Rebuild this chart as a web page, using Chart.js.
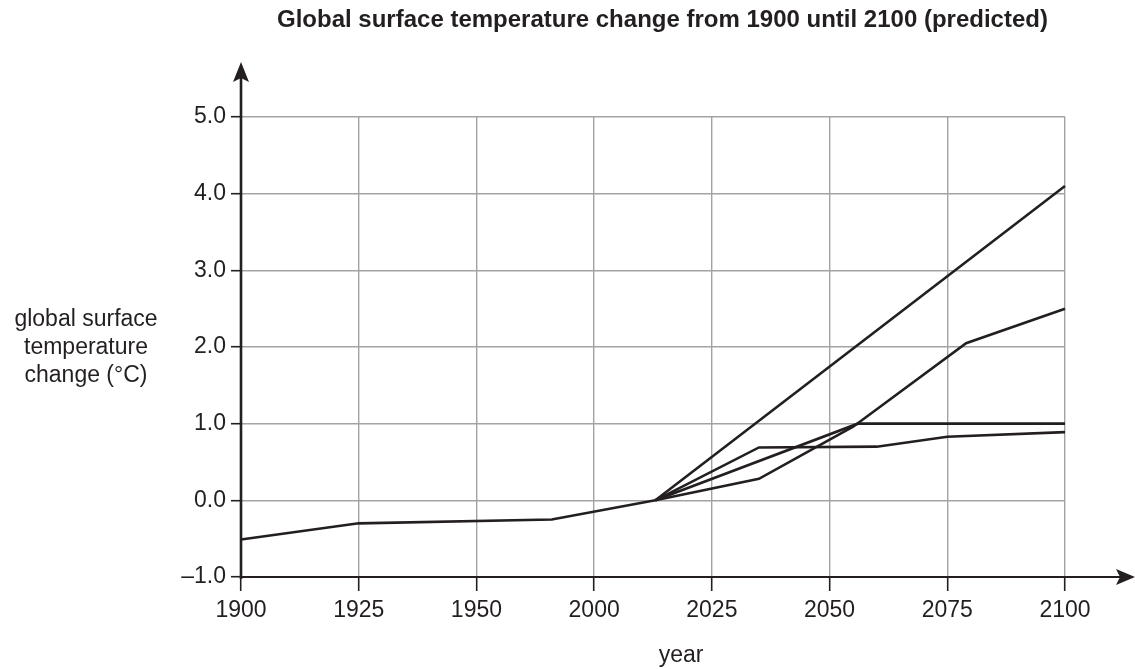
<!DOCTYPE html>
<html>
<head>
<meta charset="utf-8">
<title>Global surface temperature change</title>
<script src="https://cdn.jsdelivr.net/npm/chart.js@4/dist/chart.umd.min.js"></script>
<style>
  html, body { margin: 0; padding: 0; background: #fff; }
  canvas { display: block; }
</style>
</head>
<body>
<canvas id="myChart" width="1135" height="669"></canvas>
<script>
'use strict'

//data
const tickYears = [1900, 1925, 1950, 2000, 2025, 2050, 2075, 2100];
const yTicks = [-1, 0, 1, 2, 3, 4, 5];

const pastYears = [1900, 1925, 1982, 2013];
const pastTemps = [-0.51, -0.30, -0.25, 0.0];

const highYears = [2013, 2100];
const highTemps = [0.0, 4.1];

const riseYears = [2013, 2035, 2055, 2079, 2100];
const riseTemps = [0.0, 0.28, 0.96, 2.05, 2.5];

const plateauYears = [2013, 2056, 2100];
const plateauTemps = [0.0, 1.0, 1.0];

const lowYears = [2013, 2035, 2060, 2075, 2100];
const lowTemps = [0.0, 0.69, 0.70, 0.83, 0.89];

const ink = '#231f20';

// the printed year axis is not even (1950 -> 2000 is one step), so place a year by its tick gap
function yearToPos(year) {
  for (let i = 0; i < tickYears.length - 1; i++) {
    if (year <= tickYears[i + 1]) {
      return i + (year - tickYears[i]) / (tickYears[i + 1] - tickYears[i]);
    }
  }
  return tickYears.length - 1;
}

function makePoints(years, temps) {
  let pts = [];
  for (let i = 0; i < years.length; i++) {
    pts.push({ x: yearToPos(years[i]), y: temps[i] });
  }
  return pts;
}

function lineSet(years, temps) {
  return {
    data: makePoints(years, temps),
    borderColor: ink,
    borderWidth: 2.6,
    pointRadius: 0,
    tension: 0,
    borderJoinStyle: 'miter',
    clip: 4
  };
}

//decorations: titles, axis lines and arrows
const extras = {
  id: 'extras',
  afterDraw(chart) {
    const ctx = chart.ctx;
    const area = chart.chartArea;
    ctx.save();
    ctx.fillStyle = ink;
    ctx.strokeStyle = ink;

    ctx.font = 'bold 24px "Liberation Sans", Arial, sans-serif';
    ctx.textAlign = 'left';
    ctx.textBaseline = 'alphabetic';
    ctx.fillText('Global surface temperature change from 1900 until 2100 (predicted)', 277, 27);

    ctx.font = '23px "Liberation Sans", Arial, sans-serif';
    ctx.textAlign = 'center';
    ctx.textBaseline = 'middle';
    ctx.fillText('global surface', 86, 320);
    ctx.fillText('temperature', 86, 348);
    ctx.fillText('change (°C)', 86, 376);
    ctx.fillText('year', 681, 656);

    // y axis
    ctx.lineWidth = 2.6;
    ctx.beginPath();
    ctx.moveTo(area.left, area.bottom + 2);
    ctx.lineTo(area.left, 72);
    ctx.stroke();
    ctx.beginPath();
    ctx.moveTo(area.left, 62);
    ctx.lineTo(area.left + 8, 82);
    ctx.lineTo(area.left, 78);
    ctx.lineTo(area.left - 8, 82);
    ctx.closePath();
    ctx.fill();

    // x axis
    ctx.lineWidth = 2;
    ctx.beginPath();
    ctx.moveTo(area.left, area.bottom);
    ctx.lineTo(1125, area.bottom);
    ctx.stroke();
    ctx.beginPath();
    ctx.moveTo(1135, area.bottom);
    ctx.lineTo(1116, area.bottom - 8);
    ctx.lineTo(1120, area.bottom);
    ctx.lineTo(1116, area.bottom + 8);
    ctx.closePath();
    ctx.fill();
    ctx.restore();
  }
};

Chart.defaults.font.family = '"Liberation Sans", Arial, sans-serif';
Chart.defaults.color = ink;

const config = {
  type: 'line',
  data: {
    datasets: [
      lineSet(pastYears, pastTemps),
      lineSet(highYears, highTemps),
      lineSet(riseYears, riseTemps),
      lineSet(plateauYears, plateauTemps),
      lineSet(lowYears, lowTemps)
    ]
  },
  options: {
    responsive: false,
    animation: false,
    devicePixelRatio: 1,
    layout: { padding: { left: 0, right: 70, top: 117, bottom: 32 } },
    plugins: {
      legend: { display: false },
      title: { display: false },
      tooltip: { enabled: false }
    },
    scales: {
      x: {
        type: 'linear',
        min: 0,
        max: tickYears.length - 1,
        afterFit: function(scale) { scale.height = 60; },
        afterBuildTicks: function(scale) {
          scale.ticks = tickYears.map(function(y, i) { return { value: i }; });
        },
        ticks: {
          font: { size: 23 },
          padding: 6,
          maxRotation: 0,
          autoSkip: false,
          callback: function(value) { return String(tickYears[value]); }
        },
        grid: { color: '#a3a3a3', lineWidth: 1.4, tickColor: ink, tickLength: 14, tickWidth: 1.6 },
        border: { display: false }
      },
      y: {
        type: 'linear',
        min: yTicks[0],
        max: yTicks[yTicks.length - 1],
        afterFit: function(scale) { scale.width = 241; },
        afterBuildTicks: function(scale) {
          scale.ticks = yTicks.map(function(v) { return { value: v }; });
        },
        ticks: {
          font: { size: 23 },
          padding: 5,
          callback: function(value) {
            return value < 0 ? '\u2013' + Math.abs(value).toFixed(1) : value.toFixed(1);
          }
        },
        grid: { color: '#a3a3a3', lineWidth: 1.4, tickColor: ink, tickLength: 10, tickWidth: 1.6 },
        border: { display: false }
      }
    }
  },
  plugins: [extras]
};

const myChart = new Chart(document.getElementById('myChart'), config);
</script>
</body>
</html>
